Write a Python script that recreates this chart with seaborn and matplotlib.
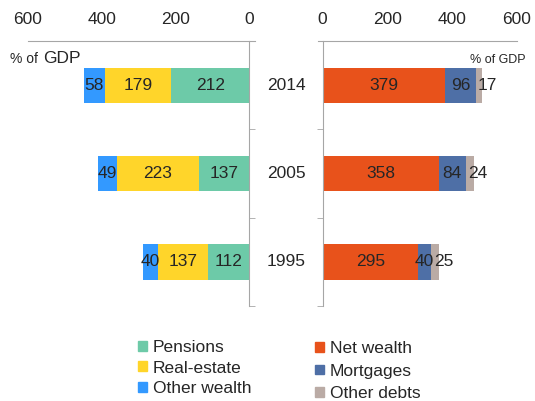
import matplotlib
matplotlib.use('Agg')
import matplotlib.pyplot as plt
import seaborn as sns
import numpy as np
from matplotlib.patches import Patch
from matplotlib import transforms

# data (% of GDP)
years = ['2014', '2005', '1995']
pensions = [212, 137, 112]
real_estate = [179, 223, 137]
other_wealth = [58, 49, 40]
net_wealth = [379, 358, 295]
mortgages = [96, 84, 40]
other_debts = [17, 24, 25]

left_names = ['Pensions', 'Real-estate', 'Other wealth']
right_names = ['Net wealth', 'Mortgages', 'Other debts']
left_colors = ['#6DCAA8', '#FFD52A', '#3399FF']
right_colors = ['#E8521B', '#4E6FA6', '#BAABA5']
axis_grey = '#A6A6A6'

sns.set_style('white')
plt.rcParams['font.family'] = ['Liberation Sans', 'DejaVu Sans']

fig = plt.figure(figsize=(5.35, 4.01), dpi=100)
ax_l = fig.add_axes([28 / 535, 95 / 401, 227 / 535, 265 / 401])
ax_r = fig.add_axes([318 / 535, 95 / 401, 199 / 535, 265 / 401])


def stacked(ax, layers, colors):
    layers = np.array(layers)
    cum = np.cumsum(layers, axis=0)
    # draw outermost first so inner segments sit on top
    for i in range(len(layers) - 1, -1, -1):
        sns.barplot(x=cum[i], y=years, color=colors[i], width=0.4,
                    saturation=1, linewidth=0, orient='h', ax=ax)
    return layers, cum


lay_l, cum_l = stacked(ax_l, [pensions, real_estate, other_wealth], left_colors)
lay_r, cum_r = stacked(ax_r, [net_wealth, mortgages, other_debts], right_colors)

# value labels
for i in range(3):
    for j in range(3):
        v = lay_l[i][j]
        ax_l.text(cum_l[i][j] - v / 2, j, str(v), ha='center', va='center', fontsize=12.5)
for i in range(3):
    for j in range(3):
        v = lay_r[i][j]
        start = cum_r[i][j] - v
        if i == 2:
            ax_r.text(start + v / 2 - 4, j, str(v), ha='left', va='center', fontsize=12.5)
        else:
            ax_r.text(start + v / 2, j, str(v), ha='center', va='center', fontsize=12.5)

# axes styling
ax_l.set_xlim(600, -15)
ax_r.set_xlim(-14, 600)
for ax, side, hide in [(ax_l, 'right', 'left'), (ax_r, 'left', 'right')]:
    ax.set_ylim(2.5, -0.5)
    ax.set_xlabel('')
    ax.set_ylabel('')
    ax.xaxis.tick_top()
    ax.set_xticks([0, 200, 400, 600])
    ax.tick_params(axis='x', length=0, pad=10, labelsize=12.5)
    ax.spines[hide].set_visible(False)
    ax.spines['bottom'].set_visible(False)
    ax.spines['top'].set_color(axis_grey)
    ax.spines[side].set_color(axis_grey)
    ax.spines[side].set_position(('data', 0))
    if side == 'right':
        ax.yaxis.tick_right()
    else:
        ax.yaxis.tick_left()
    ax.set_yticks([])
    ax.set_yticks([0.5, 1.5, 2.5], minor=True)
    ax.tick_params(axis='y', which='minor', length=4, color=axis_grey, direction='out')

# year labels between the panels
trans = transforms.blended_transform_factory(fig.transFigure, ax_r.transData)
for j, yr in enumerate(years):
    ax_r.text(286 / 535, j, yr, transform=trans, ha='center', va='center', fontsize=12.5)

# unit notes
fig.text(10 / 535, 1 - 63 / 401, '% of', fontsize=10, va='baseline')
fig.text(43 / 535, 1 - 63 / 401, 'GDP', fontsize=12.5, va='baseline')
fig.text(470 / 535, 1 - 63 / 401, '% of GDP', fontsize=9, va='baseline')

# legends
leg_kw = dict(loc='upper left', frameon=False, fontsize=12.5, handlelength=0.5,
              handleheight=0.5, handletextpad=0.35,
              borderaxespad=0, borderpad=0)
fig.legend([Patch(color=c) for c in left_colors], left_names, labelspacing=0.32,
           bbox_to_anchor=(138 / 535, 1 - 340 / 401), **leg_kw)
fig.legend([Patch(color=c) for c in right_colors], right_names, labelspacing=0.44,
           bbox_to_anchor=(315 / 535, 1 - 341 / 401), **leg_kw)

fig.savefig('out.png', dpi=100)
